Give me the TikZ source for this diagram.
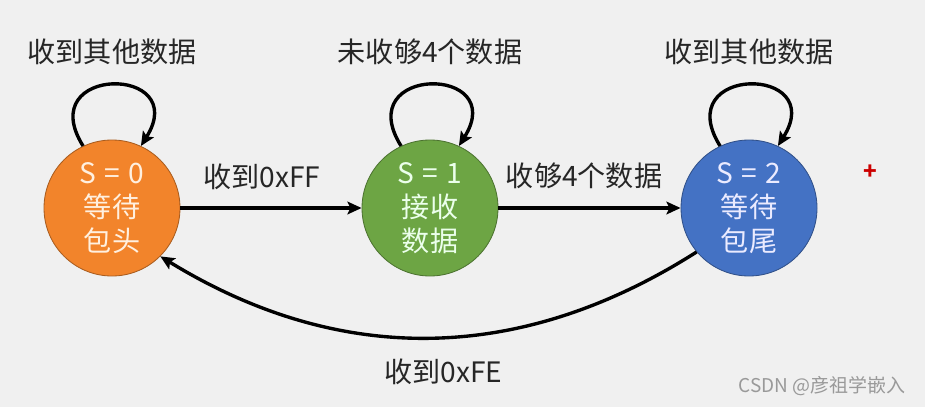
\documentclass[tikz,border=0pt]{standalone}
\usepackage{fontspec}
\setmainfont{Noto Sans CJK SC}
\usetikzlibrary{arrows.meta}

\definecolor{bgGray}{HTML}{F0F0F0}
\definecolor{stOrange}{HTML}{F2842B}
\definecolor{stGreen}{HTML}{6DA544}
\definecolor{stBlue}{HTML}{4472C4}

\tikzset{
    fsm state/.style={circle, minimum size=3.4cm, inner sep=0pt,
                      line width=0.6pt, align=center,
                      font=\fontsize{20}{24}\selectfont},
    fsm head/.style={fsm state, fill=stOrange, draw=stOrange!70!black,
                     text=orange!12!white},
    fsm data/.style={fsm state, fill=stGreen, draw=stGreen!70!black,
                     text=green!8!white},
    fsm tail/.style={fsm state, fill=stBlue, draw=stBlue!70!black,
                     text=blue!8!white},
    fsm arrow/.style={-{Stealth[length=10pt, width=9pt, inset=2pt]},
                      line width=2.4pt, black},
    fsm label/.style={font=\fontsize{20}{24}\selectfont, inner sep=1pt,
                      text=black!85},
}
\newcommand{\fsmeq}[1]{S\hspace{0.3em}=\hspace{0.3em}#1}

\begin{document}
\begin{tikzpicture}
    % Background
    \fill[bgGray] (0,0) rectangle (23.125,10.175);
    \useasboundingbox (0,0) rectangle (23.125,10.175);
    % States
    \node[fsm head] (s0) at (2.8, 4.975)   {\fsmeq{0}\\等待\\包头};
    \node[fsm data] (s1) at (10.75, 4.975) {\fsmeq{1}\\接收\\数据};
    \node[fsm tail] (s2) at (18.725, 4.975) {\fsmeq{2}\\等待\\包尾};
    % Self loops
    \draw[fsm arrow] (s0.115) .. controls +(122:2.4) and +(58:2.4) ..
          node[fsm label, above=0.415cm] (loop0) {收到其他数据} (s0.65);
    \draw[fsm arrow] (s1.115) .. controls +(122:2.4) and +(58:2.4) ..
          node[fsm label, above=0.415cm] (loop1) {未收够4个数据} (s1.65);
    \draw[fsm arrow] (s2.115) .. controls +(122:2.4) and +(58:2.4) ..
          node[fsm label, above=0.415cm] (loop2) {收到其他数据} (s2.65);
    % Transitions
    \draw[fsm arrow] (s0) -- node[fsm label, above=0.39cm, pos=0.45] (l01) {收到0xFF} (s1);
    \draw[fsm arrow] (s1) -- node[fsm label, above=0.39cm, pos=0.47] (l12) {收够4个数据} (s2);
    \draw[fsm arrow] (s2.220) to[bend left=32]
          node[fsm label, below=0.465cm, xshift=0.35cm] (l20) {收到0xFE} (s0.315);
    % Marks
    \node[text=red!80!black, font=\fontsize{16}{16}\selectfont\bfseries, inner sep=0pt]
          (plus) at (21.75, 5.875) {+};
    \node[text=black!40, font=\fontsize{13.5}{15}\selectfont, inner sep=0pt]
          (mark) at (20.55, 0.525) {CSDN @彦祖学嵌入};
\end{tikzpicture}
\end{document}
